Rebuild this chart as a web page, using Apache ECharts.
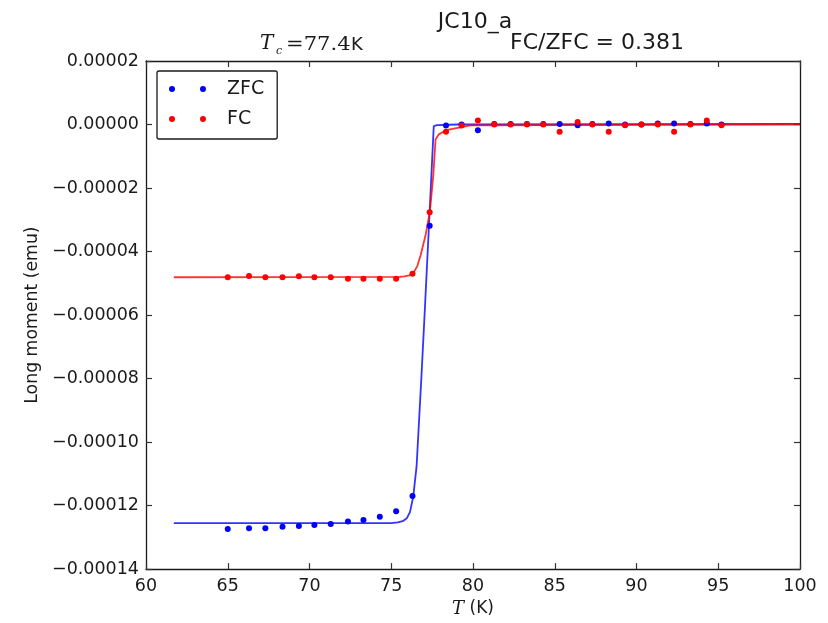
<!DOCTYPE html>
<html>
<head>
<meta charset="utf-8">
<script src="https://cdn.jsdelivr.net/npm/echarts@6/dist/echarts.min.js"></script>
<style>
  html, body { margin: 0; padding: 0; background: #fff; }
  #chart { width: 828px; height: 623px; }
</style>
</head>
<body>
<div id="chart"></div>
<script>
// measured temperatures (K)
const temps = [65.0, 66.3, 67.3, 68.35, 69.35, 70.3, 71.3, 72.35, 73.3, 74.3, 75.3, 76.3,
  77.35, 78.35, 79.3, 80.3, 81.3, 82.3, 83.3, 84.3, 85.3, 86.4, 87.3, 88.3, 89.3, 90.3,
  91.3, 92.3, 93.3, 94.3, 95.2];

// long moment (emu)
const zfcMoment = [-1.274e-4, -1.271e-4, -1.271e-4, -1.267e-4, -1.264e-4, -1.261e-4, -1.258e-4,
  -1.250e-4, -1.245e-4, -1.235e-4, -1.218e-4, -1.170e-4, -3.19e-5, -3e-7, 0, -1.8e-6, 2e-7,
  2e-7, 2e-7, 2e-7, 2e-7, -2e-7, 2e-7, 3e-7, 0, 0, 3e-7, 3e-7, 2e-7, 3e-7, 0];
const fcMoment = [-4.81e-5, -4.77e-5, -4.81e-5, -4.81e-5, -4.78e-5, -4.81e-5, -4.81e-5,
  -4.86e-5, -4.86e-5, -4.86e-5, -4.86e-5, -4.70e-5, -2.76e-5, -2.3e-6, -3e-7, 1.25e-6, 0,
  0, 0, 0, -2.3e-6, 8e-7, 0, -2.3e-6, -2e-7, 0, 0, -2.3e-6, 0, 1.3e-6, -2e-7];

// fitted curves
const zfcFitT = [61.7, 75.0, 75.4, 75.7, 75.95, 76.15, 76.35, 76.55, 76.85, 77.06, 77.31, 77.6, 77.8, 79.0, 100];
const zfcFitM = [-1.255e-4, -1.255e-4, -1.253e-4, -1.249e-4, -1.24e-4, -1.22e-4, -1.17e-4,
  -1.076e-4, -7.9e-5, -5.77e-5, -3.15e-5, -5e-7, -2e-7, 0, 2e-7];
const fcFitT = [61.7, 75.5, 75.8, 76.1, 76.35, 76.6, 76.8, 77.1, 77.36, 77.57, 77.71, 77.91, 78.36, 79.85, 100];
const fcFitM = [-4.81e-5, -4.80e-5, -4.78e-5, -4.75e-5, -4.68e-5, -4.45e-5, -4.11e-5, -3.48e-5,
  -2.76e-5, -1.61e-5, -4.7e-6, -3.1e-6, -1.8e-6, -3e-7, 0];

const xTicks = { min: 60, max: 100, step: 5 };
const yTicks = { min: -0.00014, max: 0.00002, step: 0.00002 };

const zip = (a, b) => a.map((v, i) => [v, b[i]]);

const sans = 'DejaVu Sans';
const serif = 'DejaVu Serif';
const ink = '#1a1a1a';
const twoDots = 'path://M0,3A3,3,0,1,1,6,3A3,3,0,1,1,0,3ZM31,3A3,3,0,1,1,37,3A3,3,0,1,1,31,3Z';

function fmtY(v) {
  if (Math.abs(v) < 1e-12) return '0.00000';
  return (v < 0 ? '\u2212' : '') + Math.abs(v).toFixed(5);
}

function frame() {
  return {
    axisLine: { show: true, onZero: false, lineStyle: { color: ink, width: 1.3 } },
    axisTick: { show: true, inside: true, length: 6, lineStyle: { color: '#333', width: 1.2 } },
    splitLine: { show: false }
  };
}
const label = { fontFamily: sans, fontSize: 17.5, color: ink };

const chart = echarts.init(document.getElementById('chart'));
chart.setOption({
  animation: false,
  backgroundColor: '#fff',
  grid: { left: 146, right: 28, top: 61, bottom: 49 },
  graphic: [
    { type: 'text', style: { text: 'JC10_a', x: 475, y: 22, fontFamily: sans, fontSize: 22, fill: ink, textAlign: 'center', textVerticalAlign: 'middle' } },
    { type: 'text', style: { text: 'FC/ZFC = 0.381', x: 510, y: 43.5, fontFamily: sans, fontSize: 22, fill: ink, textAlign: 'left', textVerticalAlign: 'middle' } },
    { type: 'text', style: { text: 'T', x: 260, y: 44, fontFamily: serif, fontStyle: 'italic', fontSize: 20, fill: ink, textAlign: 'left', textVerticalAlign: 'middle' } },
    { type: 'text', style: { text: 'c', x: 276, y: 51, fontFamily: serif, fontStyle: 'italic', fontSize: 11, fill: ink, textAlign: 'left', textVerticalAlign: 'middle' } },
    { type: 'text', x: 286, y: 45, scaleX: 1.17, style: { text: '=77.4', x: 0, y: 0, fontFamily: serif, fontSize: 18, fill: ink, textAlign: 'left', textVerticalAlign: 'middle' } },
    { type: 'text', style: { text: 'K', x: 351, y: 45, fontFamily: sans, fontSize: 18, fill: ink, textAlign: 'left', textVerticalAlign: 'middle' } }
  ],
  legend: {
    data: ['ZFC', 'FC'],
    orient: 'vertical',
    left: 157,
    top: 71,
    icon: twoDots,
    itemWidth: 37,
    itemHeight: 6,
    itemGap: 10,
    padding: [8, 13, 10, 12],
    borderColor: ink,
    borderWidth: 1.3,
    borderRadius: 2,
    selectedMode: false,
    textStyle: { fontFamily: sans, fontSize: 19, color: ink, lineHeight: 20, padding: [0, 0, 0, 16] }
  },
  xAxis: [
    Object.assign({
      type: 'value', min: xTicks.min, max: xTicks.max, interval: xTicks.step,
      name: '{i|T} (K)', nameLocation: 'middle', nameGap: 25,
      nameTextStyle: { fontFamily: sans, fontSize: 17, color: ink,
        rich: { i: { fontFamily: serif, fontStyle: 'italic', fontSize: 18, color: ink } } },
      axisLabel: Object.assign({ margin: 8 }, label)
    }, frame()),
    Object.assign({
      type: 'value', position: 'top', min: xTicks.min, max: xTicks.max, interval: xTicks.step,
      axisLabel: { show: false }
    }, frame())
  ],
  yAxis: [
    Object.assign({
      type: 'value', min: yTicks.min, max: yTicks.max, interval: yTicks.step,
      name: 'Long moment (emu)', nameLocation: 'middle', nameGap: 104,
      nameTextStyle: { fontFamily: sans, fontSize: 17.3, color: ink },
      axisLabel: Object.assign({ margin: 7, formatter: fmtY }, label)
    }, frame()),
    Object.assign({
      type: 'value', position: 'right', min: yTicks.min, max: yTicks.max, interval: yTicks.step,
      axisLabel: { show: false }
    }, frame())
  ],
  series: [
    {
      name: 'ZFC fit', type: 'line', data: zip(zfcFitT, zfcFitM), showSymbol: false, symbol: 'none',
      lineStyle: { color: '#0000ff', width: 1.8, opacity: 0.8 }, itemStyle: { color: '#0000ff' }, silent: true, z: 2
    },
    {
      name: 'FC fit', type: 'line', data: zip(fcFitT, fcFitM), showSymbol: false, symbol: 'none',
      lineStyle: { color: '#ff0000', width: 1.8, opacity: 0.8 }, itemStyle: { color: '#ff0000' }, silent: true, z: 2
    },
    {
      name: 'ZFC', type: 'scatter', data: zip(temps, zfcMoment), symbolSize: 6,
      itemStyle: { color: '#0000ff', opacity: 1 }, z: 3
    },
    {
      name: 'FC', type: 'scatter', data: zip(temps, fcMoment), symbolSize: 6,
      itemStyle: { color: '#ff0000', opacity: 1 }, z: 3
    }
  ]
});
</script>
</body>
</html>
